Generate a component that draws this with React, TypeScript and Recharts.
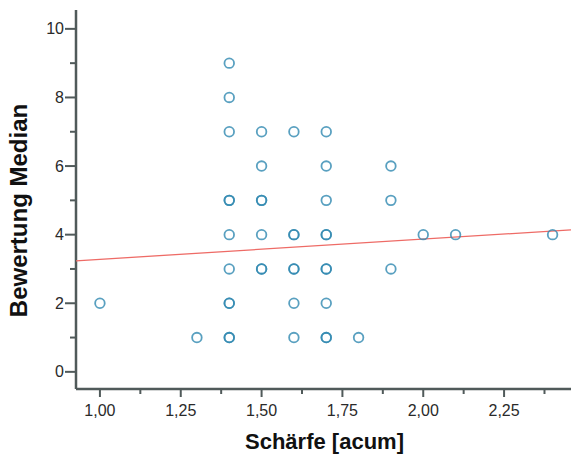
import { ComposedChart, Scatter, XAxis, YAxis } from "recharts";

// observations: Schärfe [acum] vs. Bewertung Median (duplicates overlap and look darker)
const schaerfe = [
  1.0, 1.3,
  1.4, 1.4, 1.4, 1.4, 1.4, 1.4, 1.4, 1.4, 1.4, 1.4, 1.4,
  1.5, 1.5, 1.5, 1.5, 1.5, 1.5, 1.5,
  1.6, 1.6, 1.6, 1.6, 1.6, 1.6, 1.6,
  1.7, 1.7, 1.7, 1.7, 1.7, 1.7, 1.7, 1.7, 1.7, 1.7,
  1.8, 1.9, 1.9, 1.9, 2.0, 2.1, 2.4,
];
const bewertung = [
  2, 1,
  9, 8, 7, 5, 5, 4, 3, 2, 2, 1, 1,
  7, 6, 5, 5, 4, 3, 3,
  7, 4, 4, 3, 3, 2, 1,
  7, 6, 5, 4, 4, 3, 3, 2, 1, 1,
  1, 6, 5, 3, 4, 4, 4,
];

const xTicks = [1, 1.125, 1.25, 1.375, 1.5, 1.625, 1.75, 1.875, 2, 2.125, 2.25, 2.375];
const yTicks = [0, 1, 2, 3, 4, 5, 6, 7, 8, 9, 10];
const xDomain = [0.926, 2.457];
const yDomain = [-0.5, 10.55];

// fitted line
const fitIntercept = 2.69;
const fitSlope = 0.59;

const points = schaerfe.map((x, i) => ({ x, y: bewertung[i] }));
const fitLine = xDomain.map((x) => ({ x, y: fitIntercept + fitSlope * x }));

const AXIS = "#505a5a";
const FONT = "'Liberation Sans', Arial, sans-serif";

const YTick = (props: any) => {
  const { x, y, payload } = props;
  const major = payload.value % 2 === 0;
  return (
    <g>
      <line x1={x - (major ? 11 : 6)} x2={x} y1={y} y2={y} stroke={AXIS} strokeWidth={2} />
      {major && (
        <text x={x - 12} y={y} dy={5.5} textAnchor="end" fontSize={16} fill="#2a2a2a" fontFamily={FONT}>
          {payload.value}
        </text>
      )}
    </g>
  );
};

const XTick = (props: any) => {
  const { x, y, payload } = props;
  const q = payload.value * 4;
  const major = Math.abs(q - Math.round(q)) < 1e-6;
  return (
    <g>
      <line x1={x} x2={x} y1={y} y2={y + (major ? 8 : 5)} stroke={AXIS} strokeWidth={2} />
      {major && (
        <text x={x} y={y + 27} textAnchor="middle" fontSize={16} fill="#2a2a2a" fontFamily={FONT}>
          {payload.value.toFixed(2).replace(".", ",")}
        </text>
      )}
    </g>
  );
};

const YLabel = (props: any) => {
  const cy = props.viewBox.y + props.viewBox.height / 2 + 11;
  return (
    <text x={27} y={cy} transform={`rotate(-90, 27, ${cy})`} textAnchor="middle"
      fontSize={24} fontWeight="bold" fill="#111" fontFamily={FONT}>
      Bewertung Median
    </text>
  );
};

const XLabel = (props: any) => {
  const { x, y, width } = props.viewBox;
  return (
    <text x={x + width / 2 + 1} y={y + 60} textAnchor="middle"
      fontSize={22} fontWeight="bold" fill="#111" fontFamily={FONT}>
      Schärfe [acum]
    </text>
  );
};

const App = () => (
  <div style={{ position: "absolute", left: 0, top: 0, background: "#fff" }}>
    <ComposedChart width={571} height={456} margin={{ top: 10, right: 0, bottom: 0, left: 0 }}>
      <XAxis
        type="number"
        dataKey="x"
        domain={xDomain}
        ticks={xTicks}
        allowDataOverflow
        height={67}
        tickSize={0}
        tickMargin={0}
        tickLine={false}
        tick={<XTick />}
        axisLine={{ stroke: AXIS, strokeWidth: 2.5 }}
        label={{ content: XLabel }}
      />
      <XAxis
        xAxisId="top"
        orientation="top"
        type="number"
        domain={xDomain}
        height={0}
        tick={false}
        tickLine={false}
        axisLine={{ stroke: "#7a8484", strokeWidth: 2 }}
      />
      <YAxis
        type="number"
        dataKey="y"
        domain={yDomain}
        ticks={yTicks}
        allowDataOverflow
        width={76}
        tickSize={0}
        tickMargin={0}
        tickLine={false}
        tick={<YTick />}
        axisLine={{ stroke: AXIS, strokeWidth: 2.5 }}
        label={{ content: YLabel }}
      />
      <Scatter
        data={fitLine}
        line={{ stroke: "#ee6b66", strokeWidth: 1.3 }}
        shape={() => <g />}
        isAnimationActive={false}
      />
      <Scatter
        data={points}
        isAnimationActive={false}
        shape={(p: any) => (
          <circle cx={p.cx} cy={p.cy} r={4.8} fill="none" stroke="#2f88b0" strokeOpacity={0.8} strokeWidth={1.8} />
        )}
      />
    </ComposedChart>
  </div>
);

export default App;
